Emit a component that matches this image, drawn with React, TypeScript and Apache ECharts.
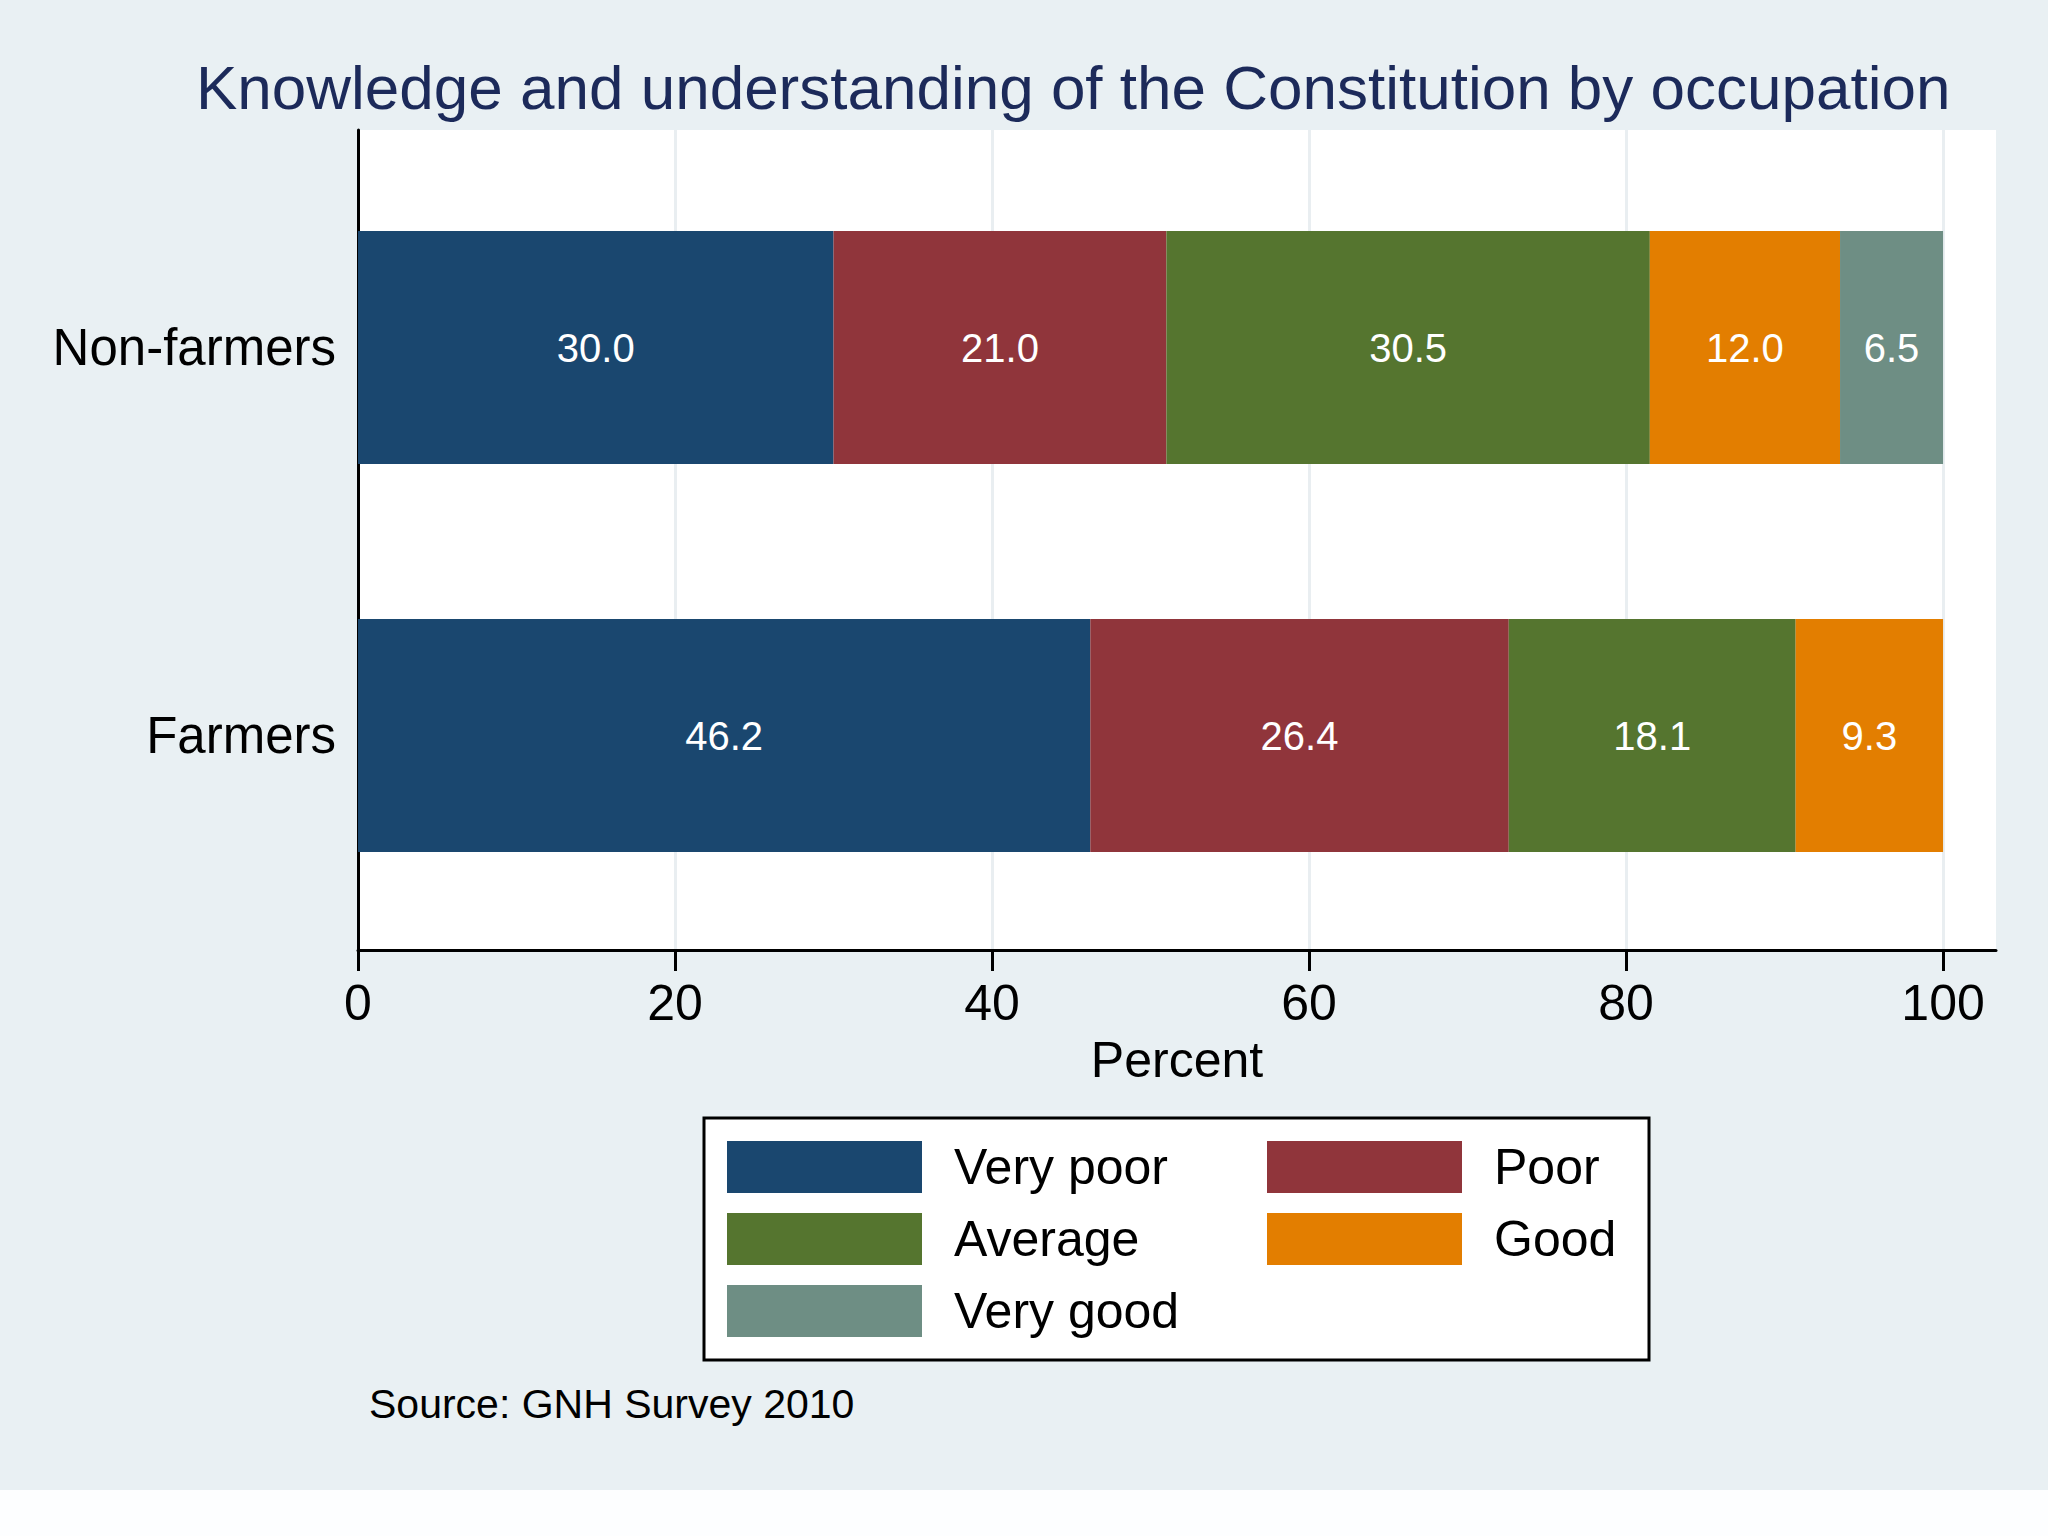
import React, { useEffect, useRef } from "react";
import * as echarts from "echarts";

const titleText = "Knowledge and understanding of the Constitution by occupation";
const sourceText = "Source: GNH Survey 2010";
const axisName = "Percent";
const categories = ["Farmers", "Non-farmers"];
const seriesNames = ["Very poor", "Poor", "Average", "Good", "Very good"];
const veryPoor = [46.2, 30.0];
const poor = [26.4, 21.0];
const average = [18.1, 30.5];
const good = [9.3, 12.0];
const veryGood = [null, 6.5];
const xTicks = [0, 20, 40, 60, 80, 100];
const xMax = 103.34;

const colors = ["#1a476f", "#90353b", "#55752f", "#e37e00", "#6e8e84"];
const FONT = "'Liberation Sans', Arial, Helvetica, sans-serif";

export default function App() {
  const ref = useRef<HTMLDivElement>(null);
  useEffect(() => {
    if (!ref.current) return;
    const chart = echarts.init(ref.current, undefined, { renderer: "svg" });
    const values = [veryPoor, poor, average, good, veryGood];
    const legendPos = [
      { left: 727, top: 1141 },
      { left: 1267, top: 1141 },
      { left: 727, top: 1213 },
      { left: 1267, top: 1213 },
      { left: 727, top: 1285 },
    ];
    const option: any = {
      animation: false,
      backgroundColor: "#e9f0f3",
      textStyle: { fontFamily: FONT },
      grid: [
        { left: 358, right: 52, top: 130, bottom: 540, show: true, backgroundColor: "#ffffff", borderWidth: 0 },
        { left: 358, right: 52, top: 153.5, bottom: 560.5, show: false },
      ],
      xAxis: [
        {
          type: "value",
          gridIndex: 0,
          min: 0,
          max: xMax,
          interval: 20,
          axisLine: { show: true, onZero: false, lineStyle: { color: "#000", width: 3 } },
          axisTick: { show: true, length: 21, lineStyle: { color: "#000", width: 3 }, customValues: xTicks },
          axisLabel: {
            show: true,
            customValues: xTicks,
            fontSize: 50,
            lineHeight: 50,
            color: "#000",
            margin: 28,
            fontFamily: FONT,
          },
          splitLine: { show: true, lineStyle: { color: "#e9eef1", width: 3 } },
          name: axisName,
          nameLocation: "middle",
          nameGap: 85,
          nameTextStyle: { fontSize: 50, lineHeight: 50, color: "#000", fontFamily: FONT },
        },
        {
          type: "value",
          gridIndex: 1,
          min: 0,
          max: xMax,
          show: false,
        },
      ],
      yAxis: [
        {
          type: "value",
          gridIndex: 0,
          min: 0,
          max: 1,
          axisLine: { show: true, onZero: false, lineStyle: { color: "#000", width: 3 } },
          axisTick: { show: false },
          axisLabel: { show: false },
          splitLine: { show: false },
        },
        {
          type: "category",
          gridIndex: 1,
          data: categories,
          axisLine: { show: false },
          axisTick: { show: false },
          axisLabel: { fontSize: 51, color: "#000", margin: 22, fontFamily: FONT },
          splitLine: { show: false },
        },
      ],
      legend: seriesNames.map((name, i) => ({
        data: [name],
        left: legendPos[i].left,
        top: legendPos[i].top,
        orient: "horizontal",
        padding: 0,
        itemWidth: 195,
        itemHeight: 52,
        icon: "rect",
        selectedMode: false,
        z: 5,
        textStyle: { fontSize: 50, lineHeight: 52, color: "#000", fontFamily: FONT, padding: [0, 0, 0, 27] },
      })),
      graphic: [
        {
          type: "rect",
          z: 1,
          shape: { x: 704, y: 1118, width: 945, height: 242 },
          style: { fill: "#ffffff", stroke: "#000", lineWidth: 3 },
        },
        {
          type: "text",
          x: 196,
          y: 87,
          style: {
            text: titleText,
            fill: "#1c2a5a",
            font: `62px ${FONT}`,
            textAlign: "left",
            textVerticalAlign: "middle",
          },
        },
        {
          type: "text",
          x: 369,
          y: 1404,
          style: {
            text: sourceText,
            fill: "#000",
            font: `41px ${FONT}`,
            textAlign: "left",
            textVerticalAlign: "middle",
          },
        },
      ],
      series: seriesNames.map((name, i) => ({
        name,
        type: "bar",
        stack: "total",
        xAxisIndex: 1,
        yAxisIndex: 1,
        barWidth: 233,
        itemStyle: { color: colors[i] },
        label: {
          show: true,
          position: "inside",
          color: "#fff",
          fontSize: 40,
          fontFamily: FONT,
          formatter: (p: any) => (p.value == null ? "" : Number(p.value).toFixed(1)),
        },
        data: values[i],
      })),
    };
    chart.setOption(option);
    return () => chart.dispose();
  }, []);
  return (
    <div style={{ position: "absolute", left: 0, top: 0, width: 2048, height: 1536, background: "#fdfeff" }}>
      <div ref={ref} style={{ width: 2048, height: 1490 }} />
    </div>
  );
}
